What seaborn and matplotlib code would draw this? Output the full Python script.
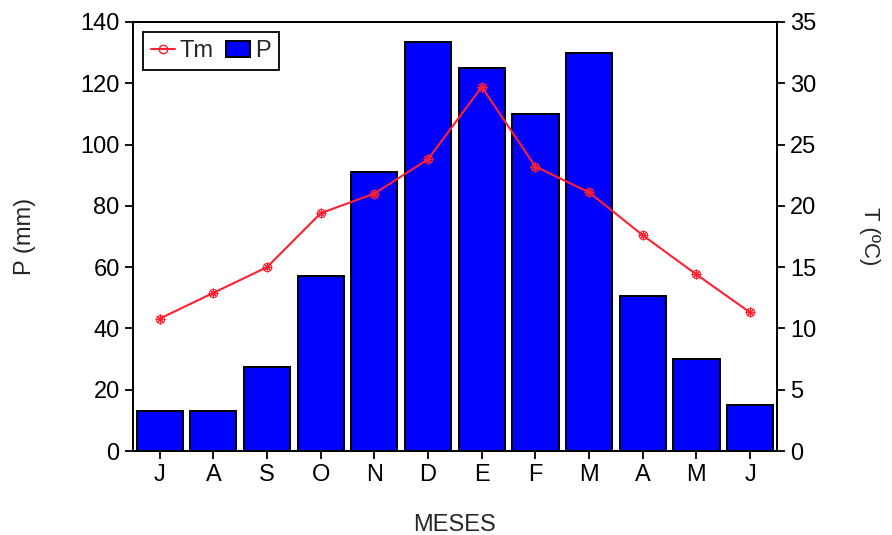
import pandas as pd
import matplotlib
matplotlib.use('Agg')
import matplotlib.pyplot as plt
import seaborn as sns
from matplotlib.patches import Patch
from matplotlib.lines import Line2D

meses = ['J', 'A', 'S', 'O', 'N', 'D', 'E', 'F', 'M', 'A', 'M', 'J']
precip = [13, 13, 27.5, 57, 91, 133.5, 125, 110, 130, 50.5, 30, 15]
temp = [10.8, 12.9, 15.0, 19.4, 21.0, 23.8, 29.7, 23.2, 21.1, 17.6, 14.4, 11.3]

df = pd.DataFrame({'pos': range(len(meses)), 'P': precip, 'Tm': temp})

sns.set_style('ticks')
plt.rcParams['font.family'] = ['Liberation Sans', 'DejaVu Sans']
plt.rcParams['font.size'] = 17

fig = plt.figure(figsize=(8.92, 5.35), dpi=100)
ax = fig.add_axes([0.149, 0.157, 0.722, 0.802])

# barras de precipitacion
sns.barplot(data=df, x='pos', y='P', color='#0000ff', saturation=1,
            edgecolor='black', linewidth=1.4, width=0.86, ax=ax)
ax.set_xlim(-0.5, 11.5)
ax.set_ylim(0, 140)
ax.set_yticks(range(0, 141, 20))
ax.set_xticks(range(len(meses)))
ax.set_xticklabels(meses)
ax.set_xlabel('MESES', labelpad=20, fontsize=17)
ax.set_ylabel('P (mm)', labelpad=32, fontsize=17)

# temperatura media en el eje derecho
ax2 = ax.twinx()
sns.lineplot(data=df, x='pos', y='Tm', color='#ff2030', linewidth=1.5,
             marker='o', markersize=6, markerfacecolor='none',
             markeredgecolor='#ff2030', ax=ax2)
sns.scatterplot(data=df, x='pos', y='Tm', marker=(8, 2, 0), s=40,
                color='#ff2030', linewidth=0.8, ax=ax2)
ax2.set_ylim(0, 35)
ax2.set_yticks(range(0, 36, 5))
ax2.set_ylabel('T (ºC)', rotation=270, labelpad=46, fontsize=16)

for a in (ax, ax2):
    for s in a.spines.values():
        s.set_visible(True)
        s.set_color('black')
        s.set_linewidth(1.3)
    a.tick_params(direction='out', length=6, width=1.3, colors='black', labelsize=17)

handles = [
    Line2D([], [], color='#ff2030', marker='o', markersize=6,
           markerfacecolor='none', linewidth=1.5),
    Patch(facecolor='#0000ff', edgecolor='black', linewidth=1.4),
]
leg = ax.legend(handles, ['Tm', 'P'], loc='upper left', ncol=2,
                fancybox=False, edgecolor='black', framealpha=1,
                handlelength=1.0, handleheight=0.7, handletextpad=0.2,
                columnspacing=0.55, borderpad=0.35, borderaxespad=0,
                bbox_to_anchor=(0.0155, 0.977))
leg.get_frame().set_linewidth(1.3)

fig.savefig('out.png', dpi=100)
